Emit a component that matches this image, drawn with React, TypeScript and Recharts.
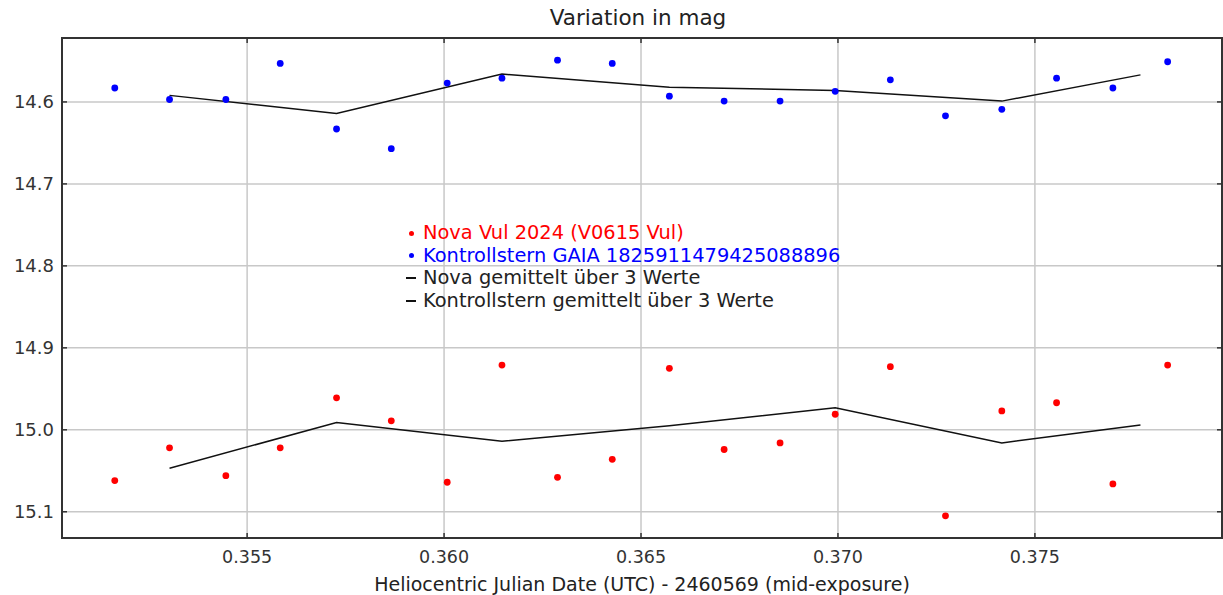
import React from 'react';
import { ScatterChart, Scatter, XAxis, YAxis, CartesianGrid, ReferenceArea } from 'recharts';

// Heliocentric JD - 2460569
const jd = [0.35164, 0.35303, 0.35446, 0.35584, 0.35727, 0.35866, 0.36008, 0.36147, 0.36288, 0.36427,
  0.36572, 0.36711, 0.36853, 0.36993, 0.37133, 0.37273, 0.37416, 0.37555, 0.37698, 0.37837];
const novaMag = [15.062, 15.022, 15.056, 15.022, 14.961, 14.989, 15.064, 14.921, 15.058, 15.036,
  14.925, 15.024, 15.016, 14.981, 14.923, 15.105, 14.977, 14.967, 15.066, 14.921];
const checkMag = [14.583, 14.597, 14.597, 14.553, 14.633, 14.657, 14.577, 14.571, 14.549, 14.553,
  14.593, 14.599, 14.599, 14.587, 14.573, 14.617, 14.609, 14.571, 14.583, 14.551];

const avgJd = [0.35303, 0.35727, 0.36147, 0.36572, 0.36993, 0.37416, 0.37768];
const novaAvg = [15.047, 14.991, 15.014, 14.995, 14.973, 15.016, 14.994];
const checkAvg = [14.592, 14.614, 14.566, 14.582, 14.586, 14.599, 14.567];

const xTicks = [0.355, 0.36, 0.365, 0.37, 0.375];
const yTicks = [14.6, 14.7, 14.8, 14.9, 15.0, 15.1];
const xDomain = [0.3503, 0.37975];
const yDomain = [14.522, 15.132];

const legendItems = [
  { label: 'Nova Vul 2024 (V0615 Vul)', color: '#ff0000', kind: 'dot' },
  { label: 'Kontrollstern GAIA 1825911479425088896', color: '#0000ff', kind: 'dot' },
  { label: 'Nova gemittelt über 3 Werte', color: '#111111', kind: 'dash' },
  { label: 'Kontrollstern gemittelt über 3 Werte', color: '#111111', kind: 'dash' },
];

const W = 1223;
const H = 595;
const M_TOP = 38;
const M_RIGHT = 1;
const FONT = '"DejaVu Sans", sans-serif';

const novaData = jd.map((x, i) => ({ x, y: novaMag[i] }));
const checkData = jd.map((x, i) => ({ x, y: checkMag[i] }));
const novaAvgData = avgJd.map((x, i) => ({ x, y: novaAvg[i] }));
const checkAvgData = avgJd.map((x, i) => ({ x, y: checkAvg[i] }));

const XTick = (props: any) => {
  const { x, y, payload } = props;
  return (
    <g>
      <line x1={x} y1={y} x2={x} y2={y - 5} stroke="#333" strokeWidth={1.5} />
      <line x1={x} y1={M_TOP} x2={x} y2={M_TOP + 5} stroke="#333" strokeWidth={1.5} />
      <text x={x} y={y + 25} textAnchor="middle" fontSize={17.5} fill="#333" fontFamily={FONT}>
        {payload.value.toFixed(3)}
      </text>
    </g>
  );
};

const YTick = (props: any) => {
  const { x, y, payload } = props;
  return (
    <g>
      <line x1={x} y1={y} x2={x + 5} y2={y} stroke="#333" strokeWidth={1.5} />
      <line x1={W - M_RIGHT} y1={y} x2={W - M_RIGHT - 5} y2={y} stroke="#333" strokeWidth={1.5} />
      <text x={x - 8} y={y + 6.5} textAnchor="end" fontSize={18} fill="#333" fontFamily={FONT}>
        {payload.value.toFixed(1)}
      </text>
    </g>
  );
};

const Dot = (color: string) => (p: any) => <circle cx={p.cx} cy={p.cy} r={3.4} fill={color} />;
const NoDot = () => <g />;

const LegendBox = () => (
  <div
    style={{
      position: 'absolute', left: 399, top: 222, fontFamily: FONT, fontSize: 19.4,
      lineHeight: '22.5px', pointerEvents: 'none',
    }}
  >
    {legendItems.map((it) => (
      <div key={it.label} style={{ display: 'flex', alignItems: 'center', whiteSpace: 'nowrap' }}>
        <span style={{ width: 24, display: 'inline-flex', justifyContent: 'center' }}>
          {it.kind === 'dot' ? (
            <span style={{ width: 5, height: 5, borderRadius: 3, background: it.color, display: 'inline-block' }} />
          ) : (
            <span style={{ width: 10, height: 2, background: it.color, display: 'inline-block' }} />
          )}
        </span>
        <span style={{ color: it.color === '#111111' ? '#222' : it.color }}>{it.label}</span>
      </div>
    ))}
  </div>
);

export default function App() {
  return (
    <div style={{ position: 'absolute', left: 0, top: 0, width: W, height: H, background: '#fff' }}>
      <div
        style={{
          position: 'absolute', left: 58, width: 1160, top: 5, textAlign: 'center',
          fontFamily: FONT, fontSize: 21.5, color: '#222',
        }}
      >
        Variation in mag
      </div>
      <ScatterChart width={W} height={H} margin={{ top: M_TOP, right: M_RIGHT, bottom: 0, left: 0 }}>
        <CartesianGrid stroke="#c8c8c8" strokeWidth={1.5} horizontalValues={yTicks} verticalValues={xTicks} />
        <XAxis
          type="number" dataKey="x" domain={xDomain} ticks={xTicks} allowDataOverflow
          height={57} tickSize={0} tickMargin={0} tick={<XTick />} axisLine={{ stroke: '#333', strokeWidth: 2 }}
          label={{ value: 'Heliocentric Julian Date (UTC) - 2460569 (mid-exposure)', position: 'insideBottom', offset: 4, fontSize: 19, fill: '#222', fontFamily: FONT }}
        />
        <YAxis
          type="number" dataKey="y" domain={yDomain} ticks={yTicks} reversed allowDataOverflow
          width={62} tickSize={0} tickMargin={0} tick={<YTick />} axisLine={{ stroke: '#333', strokeWidth: 2 }}
        />
        <ReferenceArea x1={xDomain[0]} x2={xDomain[1]} y1={yDomain[0]} y2={yDomain[1]} fill="none" stroke="#333" strokeWidth={2} ifOverflow="visible" />
        <Scatter data={novaAvgData} line={{ stroke: '#111', strokeWidth: 1.5 }} shape={NoDot} isAnimationActive={false} />
        <Scatter data={checkAvgData} line={{ stroke: '#111', strokeWidth: 1.5 }} shape={NoDot} isAnimationActive={false} />
        <Scatter data={novaData} shape={Dot('#ff0000')} isAnimationActive={false} />
        <Scatter data={checkData} shape={Dot('#0000ff')} isAnimationActive={false} />
      </ScatterChart>
      <LegendBox />
    </div>
  );
}
